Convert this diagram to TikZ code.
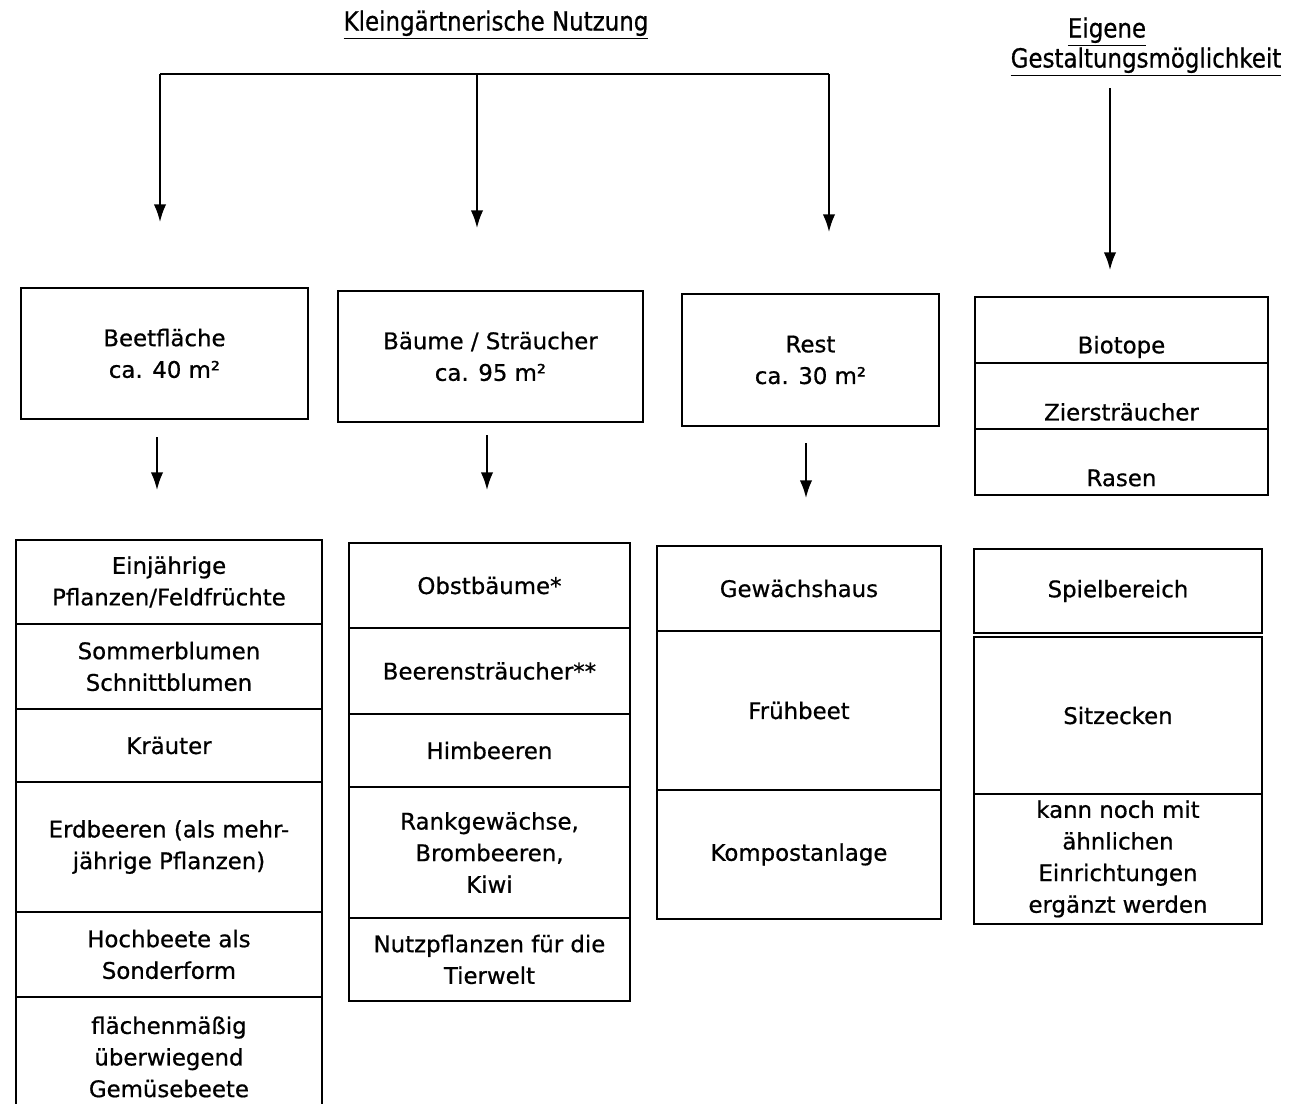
\documentclass[tikz,border=0pt]{standalone}
\usepackage{fontspec}
\setmainfont[FakeBold=0.7]{DejaVu Sans}
\newfontfamily\headfont[FakeStretch=0.87,FakeBold=0.7]{DejaVu Sans}
\usetikzlibrary{arrows.meta}

\begin{document}
\begin{tikzpicture}[
	box/.style={draw, line width=1.1pt, anchor=north west, align=center, inner sep=0pt, font=\fontsize{13}{18}\selectfont},
	lbl/.style={align=center, font=\fontsize{13}{18}\selectfont},
	head/.style={font=\headfont\fontsize{15}{18}\selectfont},
	arr/.style={line width=1pt, -{Latex[length=10pt,width=7pt]}},
	bar/.style={line width=1.6pt}
]
	\useasboundingbox (0,0) rectangle (25.94,-22.08);
	% titles
	\node[head] (kgn) at (9.92,-0.5) {\underline{Kleingärtnerische Nutzung}};
	\node[head] (eig) at (22.14,-0.64) {\underline{Eigene}};
	\node[head] (gest) at (22.92,-1.24) {\underline{Gestaltungsmöglichkeit}};
	% top boxes
	\node[box, minimum width=5.74cm, minimum height=2.62cm] (beet) at (0.4,-5.74) {Beetfläche\\ca. 40 m²};
	\node[box, minimum width=6.1cm, minimum height=2.62cm] (baum) at (6.74,-5.8) {Bäume / Sträucher\\ca. 95 m²};
	\node[box, minimum width=5.14cm, minimum height=2.64cm] (rest) at (13.62,-5.86) {Rest\\ca. 30 m²};
	\node[box, minimum width=5.86cm, minimum height=1.32cm] (bio) at (19.48,-5.92) {};
	\node[box, minimum width=5.86cm, minimum height=1.32cm] (zier) at (19.48,-7.24) {};
	\node[box, minimum width=5.86cm, minimum height=1.32cm] (rasen) at (19.48,-8.56) {};
	\node[lbl] (biot) at ([yshift=-0.34cm]bio.center) {Biotope};
	\node[lbl] (ziert) at ([yshift=-0.32cm]zier.center) {Ziersträucher};
	\node[lbl] (rasent) at ([yshift=-0.32cm]rasen.center) {Rasen};
	% connectors from the titles
	\coordinate (barl) at (3.2,-1.48);
	\coordinate (barm) at (9.54,-1.48);
	\coordinate (barr) at (16.58,-1.48);
	\coordinate (d1) at (3.2,-4.44);
	\coordinate (d2) at (9.54,-4.56);
	\coordinate (d3) at (16.58,-4.64);
	\draw[bar] (barl) -- (barr);
	\draw[arr] (barl) -- (d1);
	\draw[arr] (barm) -- (d2);
	\draw[arr] (barr) -- (d3);
	\coordinate (gt) at (22.2,-1.76);
	\coordinate (gb) at (22.2,-5.4);
	\draw[arr] (gt) -- (gb);
	% arrows down to the lists
	\coordinate (a1s) at (3.14,-8.74);
	\coordinate (a1e) at (3.14,-9.8);
	\coordinate (a2s) at (9.74,-8.7);
	\coordinate (a2e) at (9.74,-9.8);
	\coordinate (a3s) at (16.12,-8.86);
	\coordinate (a3e) at (16.12,-9.96);
	\draw[arr] (a1s) -- (a1e);
	\draw[arr] (a2s) -- (a2e);
	\draw[arr] (a3s) -- (a3e);
	% Beetflaeche list
	\node[box, minimum width=6.12cm, minimum height=1.68cm] (ein) at (0.3,-10.78) {Einjährige\\Pflanzen/Feldfrüchte};
	\node[box, minimum width=6.12cm, minimum height=1.7cm] (som) at (0.3,-12.46) {Sommerblumen\\Schnittblumen};
	\node[box, minimum width=6.12cm, minimum height=1.46cm] (kra) at (0.3,-14.16) {Kräuter};
	\node[box, minimum width=6.12cm, minimum height=2.6cm] (erd) at (0.3,-15.62) {Erdbeeren (als mehr-\\jährige Pflanzen)};
	\node[box, minimum width=6.12cm, minimum height=1.7cm] (hoch) at (0.3,-18.22) {Hochbeete als\\Sonderform};
	\node[box, minimum width=6.12cm, minimum height=2.4cm] (flae) at (0.3,-19.92) {flächenmäßig\\überwiegend\\Gemüsebeete};
	% Baeume list
	\node[box, minimum width=5.62cm, minimum height=1.7cm] (obst) at (6.96,-10.84) {Obstbäume*};
	\node[box, minimum width=5.62cm, minimum height=1.72cm] (beer) at (6.96,-12.54) {Beerensträucher**};
	\node[box, minimum width=5.62cm, minimum height=1.46cm] (him) at (6.96,-14.26) {Himbeeren};
	\node[box, minimum width=5.62cm, minimum height=2.62cm] (rank) at (6.96,-15.72) {Rankgewächse,\\Brombeeren,\\Kiwi};
	\node[box, minimum width=5.62cm, minimum height=1.66cm] (nutz) at (6.96,-18.34) {Nutzpflanzen für die\\Tierwelt};
	% Rest list
	\node[box, minimum width=5.68cm, minimum height=1.7cm] (gew) at (13.12,-10.9) {Gewächshaus};
	\node[box, minimum width=5.68cm, minimum height=3.18cm] (fru) at (13.12,-12.6) {Frühbeet};
	\node[box, minimum width=5.68cm, minimum height=2.58cm] (komp) at (13.12,-15.78) {Kompostanlage};
	% Gestaltung list
	\node[box, minimum width=5.76cm, minimum height=1.68cm] (spiel) at (19.46,-10.96) {Spielbereich};
	\node[box, minimum width=5.76cm, minimum height=3.14cm] (sitz) at (19.46,-12.72) {Sitzecken};
	\node[box, minimum width=5.76cm, minimum height=2.6cm] (kann) at (19.46,-15.86) {kann noch mit\\ähnlichen\\Einrichtungen\\ergänzt werden};
\end{tikzpicture}
\end{document}
